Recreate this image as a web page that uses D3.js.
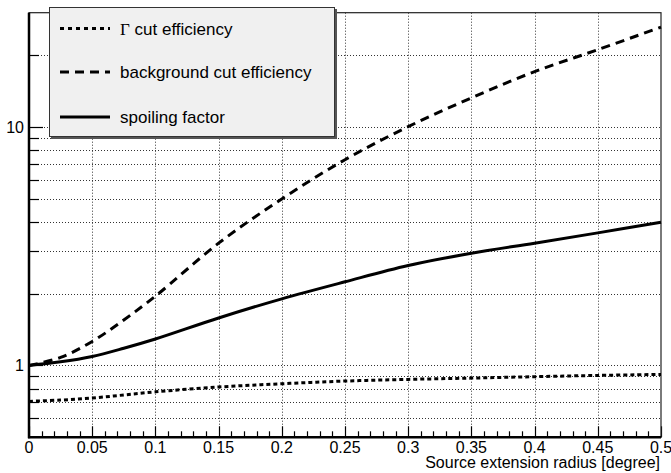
<!DOCTYPE html>
<html>
<head>
<meta charset="utf-8">
<script src="https://cdn.jsdelivr.net/npm/d3@7"></script>
<style>
  html, body { margin: 0; padding: 0; background: #fff; }
  svg { display: block; }
  text { font-family: "Liberation Sans", Arial, Helvetica, sans-serif; fill: #000; }
</style>
</head>
<body>
<svg id="chart" width="671" height="473"></svg>
<script>
// Source extension radius [degree]
const radius = [0, 0.025, 0.05, 0.075, 0.1, 0.15, 0.2, 0.25, 0.3, 0.35, 0.4, 0.45, 0.5];
// Gamma cut efficiency (relative)
const gammaEff = [0.707, 0.716, 0.73, 0.752, 0.775, 0.812, 0.838, 0.86, 0.874, 0.885, 0.897, 0.908, 0.917];
// Background cut efficiency (relative)
const bkgEff = [1.0, 1.08, 1.26, 1.55, 1.95, 3.25, 4.98, 7.27, 10.0, 13.2, 17.0, 21.0, 26.1];
// Spoiling factor
const spoiling = [1.0, 1.035, 1.09, 1.18, 1.29, 1.58, 1.90, 2.24, 2.62, 2.95, 3.25, 3.59, 3.98];

const xTickValues = [0, 0.05, 0.1, 0.15, 0.2, 0.25, 0.3, 0.35, 0.4, 0.45, 0.5];
const xTickLabels = ["0", "0.05", "0.1", "0.15", "0.2", "0.25", "0.3", "0.35", "0.4", "0.45", "0.5"];
const yLabelValues = [1, 10];
const yLabelTexts = ["1", "10"];
const yGridValues = [0.6, 0.7, 0.8, 0.9, 1, 2, 3, 4, 5, 6, 7, 8, 9, 10, 20];

const legendLabels = ["cut efficiency", "background cut efficiency", "spoiling factor"];

const svg = d3.select("#chart");
const plotLeft = 29, plotRight = 661, plotTop = 12.7, plotBottom = 437.3;

const x = d3.scaleLinear().domain([0, 0.5]).range([plotLeft, plotRight]);
const y = d3.scaleLog().domain([0.5, 30]).range([plotBottom, plotTop]);

// grid
const grid = svg.append("g").attr("stroke", "#333").attr("stroke-width", 1)
  .attr("stroke-dasharray", "1,2").attr("fill", "none");
xTickValues.filter(v => v > 0 && v < 0.5).forEach(v => {
  grid.append("line").attr("x1", Math.round(x(v)) + 0.5).attr("x2", Math.round(x(v)) + 0.5)
    .attr("y1", plotTop).attr("y2", plotBottom);
});
yGridValues.forEach(v => {
  grid.append("line").attr("x1", plotLeft).attr("x2", plotRight)
    .attr("y1", Math.round(y(v)) + 0.5).attr("y2", Math.round(y(v)) + 0.5);
});

// x ticks (minor every 0.01, major every 0.05)
const xTicksG = svg.append("g").attr("stroke", "#000").attr("stroke-width", 1.2);
d3.range(0, 51).forEach(i => {
  const v = i / 100;
  const major = i % 5 === 0;
  const px = Math.round(x(v)) + 0.5;
  xTicksG.append("line").attr("x1", px).attr("x2", px)
    .attr("y1", plotBottom).attr("y2", plotBottom - (major ? 11 : 6));
});

// y ticks
const yTicksG = svg.append("g").attr("stroke", "#000").attr("stroke-width", 1.2);
yGridValues.forEach(v => {
  const major = yLabelValues.includes(v);
  const py = Math.round(y(v)) + 0.5;
  yTicksG.append("line").attr("x1", plotLeft).attr("x2", plotLeft + (major ? 14 : 10))
    .attr("y1", py).attr("y2", py);
});

// frame
svg.append("rect").attr("x", plotLeft).attr("y", plotTop)
  .attr("width", plotRight - plotLeft).attr("height", plotBottom - plotTop)
  .attr("fill", "none").attr("stroke", "#222").attr("stroke-width", 1.2);
svg.append("line").attr("x1", plotLeft).attr("x2", plotLeft).attr("y1", plotTop).attr("y2", plotBottom + 1)
  .attr("stroke", "#000").attr("stroke-width", 2.5);
svg.append("line").attr("x1", plotLeft - 1).attr("x2", plotRight).attr("y1", plotBottom).attr("y2", plotBottom)
  .attr("stroke", "#000").attr("stroke-width", 2.5);

// tick labels
svg.append("g").selectAll("text").data(xTickValues).join("text")
  .attr("x", d => x(d)).attr("y", 452.5)
  .attr("text-anchor", "middle").attr("font-size", 16)
  .text((d, i) => xTickLabels[i]);
svg.append("g").selectAll("text").data(yLabelValues).join("text")
  .attr("x", 24).attr("y", d => y(d) + 6)
  .attr("text-anchor", "end").attr("font-size", 16)
  .text((d, i) => yLabelTexts[i]);

svg.append("text").attr("x", 660).attr("y", 468).attr("text-anchor", "end")
  .attr("font-size", 16).text("Source extension radius [degree]");

// curves
const line = d3.line().x(d => x(d[0])).y(d => y(d[1])).curve(d3.curveCatmullRom.alpha(0.5));
const series = [
  { values: gammaEff, dash: "4,3" },
  { values: bkgEff, dash: "9,6" },
  { values: spoiling, dash: null }
];
const curves = svg.append("g").attr("fill", "none").attr("stroke", "#000").attr("stroke-width", 3);
series.forEach(s => {
  curves.append("path").datum(radius.map((r, i) => [r, s.values[i]]))
    .attr("d", line).attr("stroke-dasharray", s.dash);
});

// legend
const lg = svg.append("g");
lg.append("rect").attr("x", 51).attr("y", 9).attr("width", 286).attr("height", 130).attr("fill", "#555");
lg.append("rect").attr("x", 49.5).attr("y", 7.5).attr("width", 285).attr("height", 129)
  .attr("fill", "#f0f0f0").attr("stroke", "#333").attr("stroke-width", 1);
const entryY = [28.5, 72, 117];
const legendDash = ["4,4", "9,6", null];
entryY.forEach((ey, i) => {
  lg.append("line").attr("x1", 60).attr("x2", 110).attr("y1", ey).attr("y2", ey)
    .attr("stroke", "#000").attr("stroke-width", 3).attr("stroke-dasharray", legendDash[i]);
});
const t0 = lg.append("text").attr("x", 120).attr("y", entryY[0] + 6).attr("font-size", 17);
t0.append("tspan").style("font-family", "'Liberation Serif', 'Times New Roman', serif").text("Γ");
t0.append("tspan").text(" " + legendLabels[0]);
lg.append("text").attr("x", 120).attr("y", entryY[1] + 6).attr("font-size", 17).text(legendLabels[1]);
lg.append("text").attr("x", 120).attr("y", entryY[2] + 6).attr("font-size", 17).text(legendLabels[2]);
</script>
</body>
</html>
